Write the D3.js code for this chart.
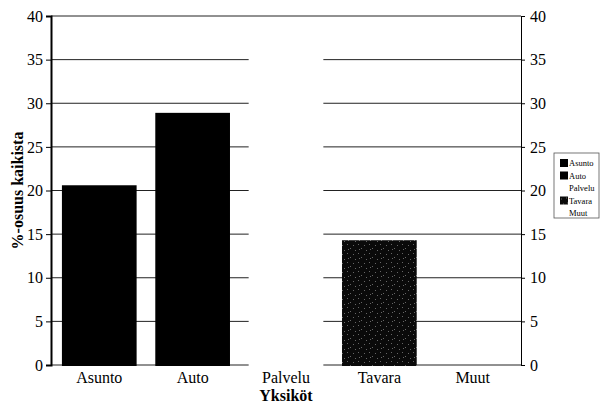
<!DOCTYPE html>
<html>
<head>
<meta charset="utf-8">
<script src="https://cdn.jsdelivr.net/npm/d3@7"></script>
<style>
  body { margin: 0; background: #fff; }
  svg { display: block; }
  svg text { font-family: 'Liberation Serif', 'Times New Roman', Times, serif; fill: #000; }
</style>
</head>
<body>
<script>
// chart data
const categories = ['Asunto', 'Auto', 'Palvelu', 'Tavara', 'Muut'];
const shares = [20.6, 28.9, 40, 14.3, 0];
const fills = ['#000', '#000', '#fff', 'url(#speckle)', '#fff'];
const yTicks = [0, 5, 10, 15, 20, 25, 30, 35, 40];

const W = 601, H = 405;
const margin = { top: 16, right: 80, bottom: 40, left: 51 };

const svg = d3.select('body').append('svg')
  .attr('width', W)
  .attr('height', H);

// speckled pattern for Tavara
const defs = svg.append('defs');
const pat = defs.append('pattern')
  .attr('id', 'speckle')
  .attr('patternUnits', 'userSpaceOnUse')
  .attr('width', 11).attr('height', 9);
pat.append('rect').attr('width', 11).attr('height', 9).attr('fill', '#0a0a0a');
[[1, 2], [6, 1], [9, 5], [3, 7], [7, 6]].forEach(p => {
  pat.append('rect').attr('x', p[0]).attr('y', p[1])
    .attr('width', 1).attr('height', 1).attr('fill', '#666');
});

const x = d3.scaleBand()
  .domain(categories)
  .range([margin.left, W - margin.right])
  .paddingInner(0.2)
  .paddingOuter(0.117);

const y = d3.scaleLinear()
  .domain([0, 40])
  .range([H - margin.bottom, margin.top]);

const g = svg.append('g');

// gridlines
g.selectAll('line.grid')
  .data(yTicks)
  .enter().append('line')
  .attr('class', 'grid')
  .attr('x1', margin.left).attr('x2', W - margin.right)
  .attr('y1', d => y(d)).attr('y2', d => y(d))
  .attr('stroke', '#222')
  .attr('stroke-width', 1);

// left axis
const left = g.append('g')
  .attr('transform', `translate(${margin.left},0)`)
  .call(d3.axisLeft(y).tickValues(yTicks).tickSize(5).tickPadding(3));
left.select('.domain').attr('stroke-width', 2);
left.attr('font-family', null).attr('font-size', 16);

// right axis
const right = g.append('g')
  .attr('transform', `translate(${W - margin.right},0)`)
  .call(d3.axisRight(y).tickValues(yTicks).tickSize(4).tickPadding(5));
right.attr('font-family', null).attr('font-size', 16);

// bars (zero-height bars are not drawn)
svg.selectAll('rect.bar')
  .data(categories.filter((d, i) => shares[i] > 0))
  .enter().append('rect')
  .attr('class', 'bar')
  .attr('x', d => x(d))
  .attr('width', x.bandwidth())
  .attr('y', d => {
    const v = shares[categories.indexOf(d)];
    return y(v) + (v >= 40 ? 1 : 0);
  })
  .attr('height', d => {
    const v = shares[categories.indexOf(d)];
    return y(0) - y(v) + 1 - (v >= 40 ? 1 : 0);
  })
  .attr('fill', d => fills[categories.indexOf(d)]);

// category labels
svg.selectAll('text.cat')
  .data(categories)
  .enter().append('text')
  .attr('class', 'cat')
  .attr('x', d => x(d) + x.bandwidth() / 2)
  .attr('y', H - margin.bottom + 18)
  .attr('text-anchor', 'middle')
  .attr('font-size', 16)
  .text(d => d);

// axis titles
svg.append('text')
  .attr('x', (margin.left + W - margin.right) / 2)
  .attr('y', 401)
  .attr('text-anchor', 'middle')
  .attr('font-weight', 'bold')
  .attr('font-size', 16)
  .text('Yksiköt');

svg.append('text')
  .attr('transform', `translate(23,${(margin.top + H - margin.bottom) / 2}) rotate(-90)`)
  .attr('text-anchor', 'middle')
  .attr('font-weight', 'bold')
  .attr('font-size', 16)
  .text('%-osuus kaikista');

// legend
const legend = svg.append('g').attr('transform', 'translate(554,153)');
legend.append('rect')
  .attr('width', 45).attr('height', 65)
  .attr('fill', '#fff')
  .attr('stroke', '#555')
  .attr('stroke-width', 0.8);
const item = legend.selectAll('g.item')
  .data(categories)
  .enter().append('g')
  .attr('class', 'item')
  .attr('transform', (d, i) => `translate(6,${6 + i * 12.5})`);
item.append('rect')
  .attr('width', 8).attr('height', 8)
  .attr('fill', (d, i) => fills[i]);
item.append('text')
  .attr('x', 9).attr('y', 7)
  .attr('font-size', 8.5)
  .text(d => d);
</script>
</body>
</html>
